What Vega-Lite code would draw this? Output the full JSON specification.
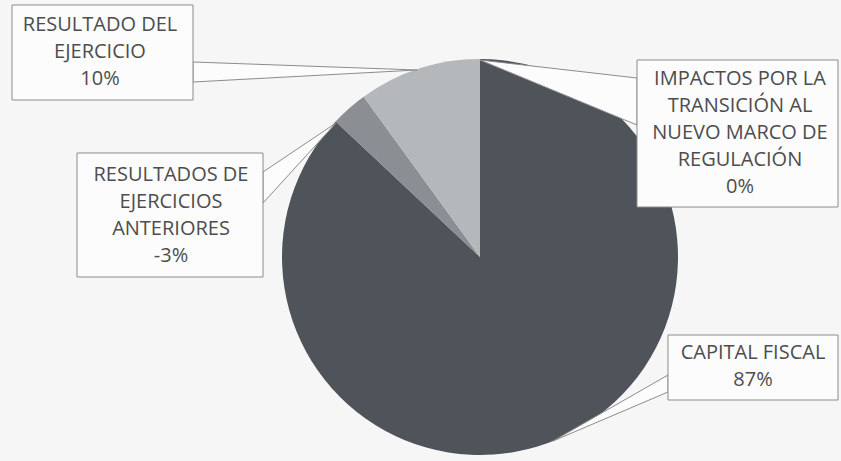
{
  "$schema": "https://vega.github.io/schema/vega-lite/v6.json",
  "width": 722,
  "height": 408,
  "autosize": {"type": "none"},
  "padding": {"left": 119, "top": 53, "right": 0, "bottom": 0},
  "background": "#f6f6f6",
  "config": {"view": {"stroke": null}},
  "datasets": {
    "slices": [
      {"category": "CAPITAL FISCAL", "value": 87, "size": 87, "order": 1},
      {"category": "RESULTADOS DE EJERCICIOS ANTERIORES", "value": -3, "size": 3, "order": 2},
      {"category": "RESULTADO DEL EJERCICIO", "value": 10, "size": 10, "order": 3},
      {"category": "IMPACTOS POR LA TRANSICIÓN AL NUEVO MARCO DE REGULACIÓN", "value": 0, "size": 0, "order": 4}
    ],
    "wedges": [
      {"callout": "ejercicio", "px": 193, "py": 62, "py2": 82},
      {"callout": "ejercicio", "px": 417, "py": 70, "py2": 70},
      {"callout": "anteriores", "px": 263, "py": 172, "py2": 203},
      {"callout": "anteriores", "px": 336, "py": 123, "py2": 123},
      {"callout": "impactos", "px": 480, "py": 60, "py2": 60},
      {"callout": "impactos", "px": 637, "py": 78, "py2": 125},
      {"callout": "capital", "px": 553, "py": 441, "py2": 441},
      {"callout": "capital", "px": 668, "py": 375, "py2": 392}
    ],
    "boxes": [
      {"callout": "ejercicio", "label": "RESULTADO DEL\nEJERCICIO\n10%", "x1": 12, "x2": 193, "y1": 5, "y2": 100, "tx": 100, "ty": 25},
      {"callout": "anteriores", "label": "RESULTADOS DE\nEJERCICIOS\nANTERIORES\n-3%", "x1": 77, "x2": 263, "y1": 153, "y2": 277, "tx": 171, "ty": 175},
      {"callout": "impactos", "label": "IMPACTOS POR LA\nTRANSICIÓN AL\nNUEVO MARCO DE\nREGULACIÓN\n0%", "x1": 637, "x2": 838, "y1": 60, "y2": 207, "tx": 740, "ty": 79},
      {"callout": "capital", "label": "CAPITAL FISCAL\n87%", "x1": 668, "x2": 838, "y1": 335, "y2": 400, "tx": 753, "ty": 353}
    ]
  },
  "layer": [
    {
      "data": {"name": "slices"},
      "mark": {"type": "arc", "outerRadius": 198},
      "encoding": {
        "theta": {"field": "size", "type": "quantitative", "stack": true},
        "order": {"field": "order", "type": "quantitative"},
        "color": {
          "field": "category",
          "type": "nominal",
          "scale": {
            "domain": ["CAPITAL FISCAL", "RESULTADOS DE EJERCICIOS ANTERIORES", "RESULTADO DEL EJERCICIO", "IMPACTOS POR LA TRANSICIÓN AL NUEVO MARCO DE REGULACIÓN"],
            "range": ["#4f535a", "#8b8e92", "#b5b8bb", "#d0d0d0"]
          },
          "legend": null
        }
      }
    },
    {
      "data": {"name": "wedges"},
      "mark": {"type": "area", "fill": "#fcfcfc", "fillOpacity": 1, "stroke": "#8c8c8c", "strokeWidth": 1},
      "encoding": {
        "x": {"field": "px", "type": "quantitative", "scale": {"domain": [119, 841], "nice": false, "zero": false}, "axis": null},
        "y": {"field": "py", "type": "quantitative", "scale": {"domain": [53, 461], "reverse": true, "nice": false, "zero": false}, "axis": null},
        "y2": {"field": "py2"},
        "detail": {"field": "callout", "type": "nominal"}
      }
    },
    {
      "data": {"name": "boxes"},
      "mark": {"type": "rect", "fill": "#fcfcfc", "stroke": "#8c8c8c", "strokeWidth": 1},
      "encoding": {
        "x": {"field": "x1", "type": "quantitative", "scale": {"domain": [119, 841], "nice": false, "zero": false}, "axis": null},
        "x2": {"field": "x2"},
        "y": {"field": "y1", "type": "quantitative", "scale": {"domain": [53, 461], "reverse": true, "nice": false, "zero": false}, "axis": null},
        "y2": {"field": "y2"}
      }
    },
    {
      "data": {"name": "boxes"},
      "mark": {"type": "text", "font": "Open Sans", "fontSize": 20, "color": "#4d4d4d", "align": "center", "baseline": "middle", "lineBreak": "\n", "lineHeight": 27},
      "encoding": {
        "x": {"field": "tx", "type": "quantitative", "scale": {"domain": [119, 841], "nice": false, "zero": false}, "axis": null},
        "y": {"field": "ty", "type": "quantitative", "scale": {"domain": [53, 461], "reverse": true, "nice": false, "zero": false}, "axis": null},
        "text": {"field": "label"}
      }
    }
  ]
}
